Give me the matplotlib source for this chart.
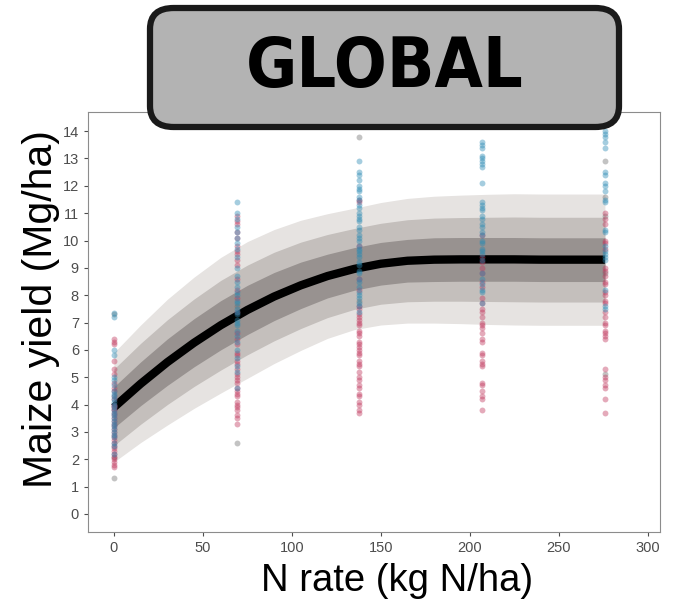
import numpy as np
import matplotlib
matplotlib.use('Agg')
import matplotlib.pyplot as plt
from matplotlib.patches import FancyBboxPatch

plt.rcParams['font.family'] = ['Liberation Sans', 'DejaVu Sans']

# fitted curve and uncertainty bands
curve_x = [0, 15, 30, 45, 60, 75, 90, 105, 120, 135, 150, 165, 180, 195, 210, 225, 240, 255, 276]
curve_y = [3.90, 4.76, 5.55, 6.26, 6.90, 7.46, 7.95, 8.36, 8.70, 8.96, 9.15, 9.26, 9.30, 9.31,
           9.31, 9.31, 9.30, 9.30, 9.30]
inner_hw = [0.75, 0.80, 0.85, 0.88, 0.90, 0.90, 0.88, 0.85, 0.80, 0.78, 0.78, 0.78, 0.80,
            0.80, 0.80, 0.80, 0.80, 0.80, 0.80]
mid_hw = [1.40, 1.48, 1.55, 1.60, 1.64, 1.64, 1.62, 1.58, 1.52, 1.48, 1.48, 1.50, 1.52,
          1.53, 1.54, 1.55, 1.55, 1.55, 1.55]
outer_hw = [2.00, 2.15, 2.30, 2.40, 2.48, 2.50, 2.45, 2.38, 2.28, 2.22, 2.24, 2.28, 2.32,
            2.35, 2.38, 2.40, 2.40, 2.40, 2.40]

# observed yields per N rate, split by site group
n_rates = [0, 69, 138, 207, 276]
red_pts = [
    [6.4, 6.2, 5.3, 5.1, 4.6, 4.3, 4.0, 3.9, 3.8, 3.7, 3.5, 3.3, 3.0, 2.8, 2.6, 2.4, 2.2, 2.0,
     1.8, 6.3, 4.8, 3.1, 5.6, 4.5, 4.2, 3.95, 3.85, 3.6, 3.4, 3.2, 2.9, 2.7, 2.5, 2.3, 2.1,
     1.9, 1.7],
    [10.9, 10.6, 10.3, 9.8, 9.5, 9.3, 8.6, 7.9, 7.4, 6.6, 6.2, 5.9, 5.6, 5.3, 5.0, 4.8, 4.5,
     4.3, 4.1, 3.9, 3.6, 3.3, 10.7, 10.1, 9.6, 9.1, 8.2, 6.4, 5.8, 5.5, 5.1, 4.9, 4.6, 4.4,
     4.0, 3.8, 3.5],
    [11.5, 9.8, 8.6, 7.6, 7.2, 7.0, 6.7, 6.5, 6.2, 6.0, 5.8, 5.5, 5.2, 4.9, 4.6, 4.3, 4.0,
     3.7, 8.2, 7.5, 7.3, 7.1, 6.9, 6.6, 6.3, 6.1, 5.9, 5.6, 5.4, 5.0, 4.7, 4.4, 4.1, 3.8,
     11.4],
    [9.0, 8.5, 7.9, 7.5, 7.2, 6.9, 6.6, 6.3, 5.9, 5.6, 5.4, 4.8, 4.5, 4.2, 3.8, 10.2, 9.4,
     8.8, 8.3, 7.7, 7.4, 7.0, 6.8, 6.4, 5.8, 5.5, 4.7, 4.3, 9.2],
    [11.0, 10.6, 9.9, 9.0, 8.7, 8.4, 8.0, 7.7, 7.4, 7.0, 6.7, 6.4, 5.3, 4.9, 4.6, 4.2, 3.7,
     10.8, 10.0, 9.7, 8.9, 8.5, 8.1, 7.8, 7.2, 6.9, 6.6, 6.5, 5.0, 4.7],
]
teal_pts = [
    [7.35, 7.2, 6.0, 5.8, 5.0, 4.7, 4.4, 4.2, 3.9, 3.6, 3.4, 3.2, 3.0, 2.9, 2.5, 4.1, 3.3,
     4.9, 4.5, 4.3, 4.0, 3.8, 3.7, 3.5, 3.1, 2.8, 2.6, 2.2],
    [11.4, 10.8, 10.5, 10.1, 9.7, 9.0, 8.7, 8.3, 8.0, 7.7, 7.4, 7.1, 6.9, 6.5, 6.0, 5.7, 5.2,
     4.6, 11.0, 10.3, 9.9, 9.4, 8.5, 8.1, 7.8, 7.5, 7.3, 7.0, 6.7, 6.3, 5.4],
    [12.9, 12.5, 12.2, 11.9, 11.6, 11.3, 11.0, 10.7, 10.4, 10.1, 9.8, 9.5, 9.2, 8.9, 8.6, 8.3,
     8.0, 7.7, 7.4, 10.9, 9.6, 12.4, 12.0, 11.8, 11.5, 11.2, 10.8, 10.5, 10.2, 10.0, 9.7,
     9.4, 9.1, 8.8, 8.5, 8.1, 7.9, 7.6],
    [13.6, 13.4, 13.0, 12.7, 12.1, 11.4, 11.2, 10.9, 10.6, 10.3, 10.0, 9.7, 9.5, 8.8, 8.4,
     8.1, 7.7, 13.5, 13.1, 12.9, 12.8, 11.3, 11.1, 10.8, 10.5, 10.2, 9.9, 9.6, 9.3, 8.6, 8.2],
    [14.0, 13.8, 13.4, 12.5, 12.1, 11.8, 11.4, 10.3, 9.6, 9.4, 8.2, 7.5, 13.9, 13.6, 12.4,
     12.0, 11.5, 10.4, 9.8, 9.5, 9.3, 7.6],
]
grey_pts = [
    [1.3, 2.1, 7.3],
    [2.6, 7.6],
    [13.8, 7.8],
    [],
    [12.9, 11.6, 10.9, 8.8, 5.1],
]

fig = plt.figure(figsize=(6.78, 5.99), dpi=100)
ax = fig.add_axes([0.1298, 0.1119, 0.8437, 0.7011])

cx = np.array(curve_x)
cy = np.array(curve_y)
for hw, col in [(outer_hw, '#e6e3e1'), (mid_hw, '#c4bfbc'), (inner_hw, '#989290')]:
    hw = np.array(hw)
    ax.fill_between(cx, cy - hw, cy + hw, color=col, lw=0, zorder=1)
ax.plot(cx, cy, color='black', lw=6, solid_capstyle='butt', zorder=2)

for pts, col in [(grey_pts, '#707070'), (red_pts, '#c0365c'), (teal_pts, '#2a8ab3')]:
    for x, ys in zip(n_rates, pts):
        ax.scatter([x] * len(ys), ys, s=18, color=col, alpha=0.42, lw=0, zorder=3)

ax.set_xlim(-14.6, 307)
ax.set_ylim(-0.66, 14.7)
ax.set_xticks([0, 50, 100, 150, 200, 250, 300])
ax.set_yticks(range(0, 15))
ax.tick_params(colors='#4d4d4d', labelsize=10.5, length=3, width=0.8)
for s in ax.spines.values():
    s.set_color('#8c8c8c')
    s.set_linewidth(0.8)

ax.set_xlabel('N rate (kg N/ha)', fontsize=27.5)
ax.set_ylabel('Maize yield (Mg/ha)', fontsize=29.5)
ax.xaxis.set_label_coords(0.54, -0.075)
ax.yaxis.set_label_coords(-0.049, 0.53)

# title box
box = FancyBboxPatch((150 / 678, 1 - 127 / 599), 469 / 678, 119 / 599,
                     boxstyle='round,pad=0,rounding_size=0.035',
                     transform=fig.transFigure, facecolor='#b3b3b3',
                     edgecolor='#1a1a1a', linewidth=4.5, zorder=10)
fig.patches.append(box)
fig.text(385 / 678, 1 - 67 / 599, 'GLOBAL', ha='center', va='center',
         fontsize=50, fontweight='bold', fontstretch='condensed',
         family='DejaVu Sans', color='black', zorder=11)

fig.savefig('out.png', dpi=100)
